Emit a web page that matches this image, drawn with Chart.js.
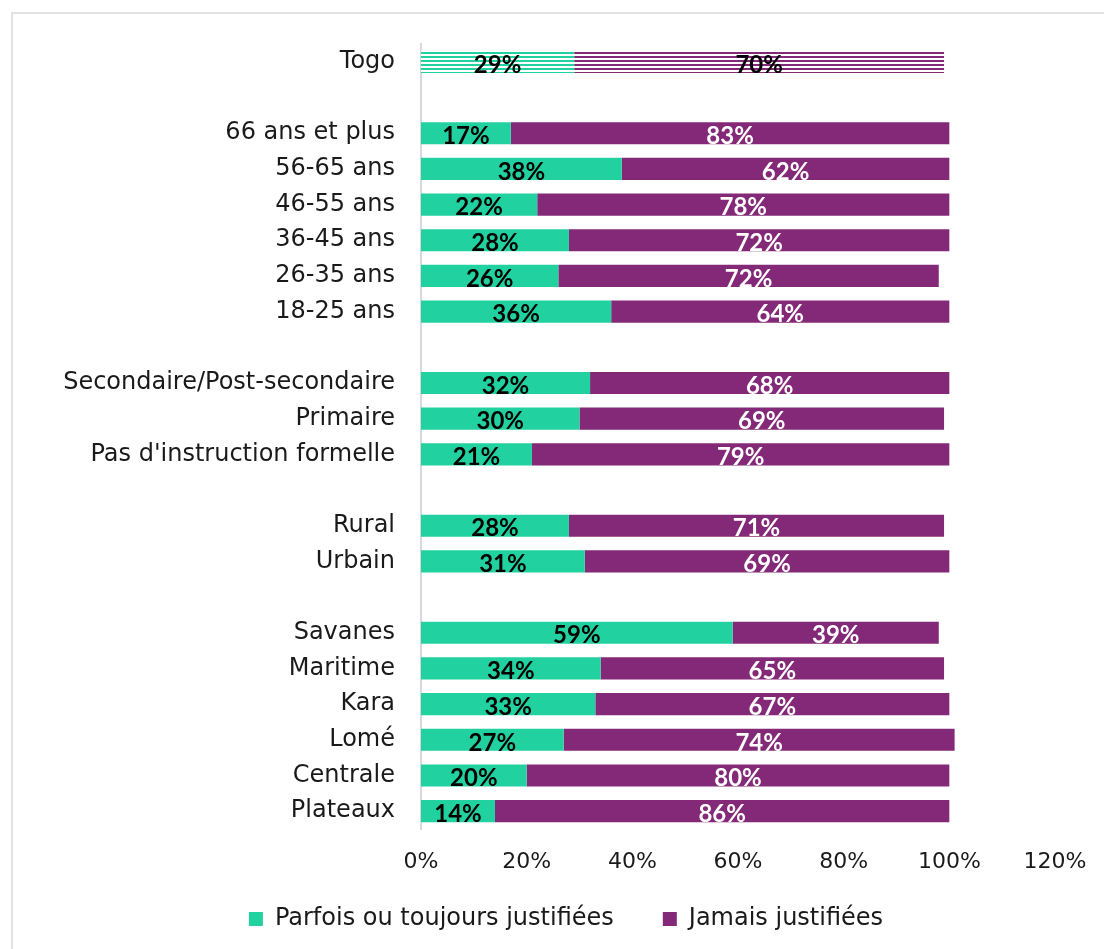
<!DOCTYPE html>
<html lang="fr">
<head>
<meta charset="utf-8">
<title>Justification de la violence</title>
<script src="https://cdn.jsdelivr.net/npm/chart.js@4/dist/chart.umd.min.js"></script>
<style>
  html, body { margin: 0; padding: 0; background: #fff; }
  #wrap { width: 1104px; height: 949px; }
</style>
</head>
<body>
<div id="wrap"><canvas id="chart" width="1104" height="949"></canvas></div>
<script>
// ------------------------------------------------------------
// DATA (empty labels are spacer rows between groups)
// ------------------------------------------------------------
const categories = [
    "Togo", "",
    "66 ans et plus", "56-65 ans", "46-55 ans", "36-45 ans", "26-35 ans", "18-25 ans", "",
    "Secondaire/Post-secondaire", "Primaire", "Pas d'instruction formelle", "",
    "Rural", "Urbain", "",
    "Savanes", "Maritime", "Kara", "Lomé", "Centrale", "Plateaux"
];
const parfois = [
    29, null,
    17, 38, 22, 28, 26, 36, null,
    32, 30, 21, null,
    28, 31, null,
    59, 34, 33, 27, 20, 14
];
const jamais = [
    70, null,
    83, 62, 78, 72, 72, 64, null,
    68, 69, 79, null,
    71, 69, null,
    39, 65, 67, 74, 80, 86
];
const xTicks = [0, 20, 40, 60, 80, 100, 120];

const GREEN = "#22d1a0";
const PURPLE = "#842878";
const SERIES_COLORS = [GREEN, PURPLE];
const FONT = "'DejaVu Sans', sans-serif";

// Horizontal striped fill used for the national (Togo) row
function stripes(color) {
    const c = document.createElement("canvas");
    c.width = 8;
    c.height = 4;
    const g = c.getContext("2d");
    g.fillStyle = "#fff";
    g.fillRect(0, 0, 8, 4);
    g.fillStyle = color;
    g.fillRect(0, 0, 8, 2);
    return g.createPattern(c, "repeat");
}

// Light frame around the chart block
const framePlugin = {
    id: "frame",
    beforeDraw(chart) {
        const ctx = chart.ctx;
        ctx.save();
        ctx.strokeStyle = "#e2e2e2";
        ctx.lineWidth = 2;
        ctx.beginPath();
        ctx.moveTo(12, chart.height);
        ctx.lineTo(12, 13);
        ctx.lineTo(chart.width, 13);
        ctx.stroke();
        ctx.restore();
    }
};

// Move the legend row up under the axis and centre it under the bars
const legendShift = {
    id: "legendShift",
    afterLayout(chart) {
        const lg = chart.legend;
        const dx = 566 - (lg.left + lg.right) / 2;
        lg.left += dx;
        lg.right += dx;
        lg.top -= 31;
        lg.bottom = lg.top + 110;
        lg.height = 110;
    }
};

// Percent labels written in the middle of each segment
const valueLabels = {
    id: "valueLabels",
    afterDatasetsDraw(chart) {
        const ctx = chart.ctx;
        ctx.save();
        ctx.font = "bold 24px 'Lato', sans-serif";
        ctx.textAlign = "center";
        ctx.textBaseline = "middle";
        chart.data.datasets.forEach((ds, di) => {
            const meta = chart.getDatasetMeta(di);
            meta.data.forEach((bar, i) => {
                const v = ds.data[i];
                if (v == null) return;
                const cx = (bar.x + bar.base) / 2;
                ctx.fillStyle = (di === 0 || i === 0) ? "#000" : "#fff";
                ctx.fillText(v + "%", cx, bar.y + 3);
            });
        });
        ctx.restore();
    }
};

function initChart() {
    const ctx = document.getElementById("chart").getContext("2d");
    const greenStripes = stripes(GREEN);
    const purpleStripes = stripes(PURPLE);

    new Chart(ctx, {
        type: "bar",
        data: {
            labels: categories,
            datasets: [
                {
                    label: "Parfois ou toujours justifiées",
                    data: parfois,
                    backgroundColor: c => c.dataIndex === 0 ? greenStripes : GREEN,
                    barPercentage: 0.62,
                    categoryPercentage: 1
                },
                {
                    label: "Jamais justifiées",
                    data: jamais,
                    backgroundColor: c => c.dataIndex === 0 ? purpleStripes : PURPLE,
                    barPercentage: 0.62,
                    categoryPercentage: 1
                }
            ]
        },
        options: {
            indexAxis: "y",
            responsive: false,
            animation: false,
            layout: { padding: { top: 44, right: 49, bottom: 0, left: 0 } },
            scales: {
                x: {
                    stacked: true,
                    min: 0,
                    max: 120,
                    afterBuildTicks: s => { s.ticks = xTicks.map(v => ({ value: v })); },
                    afterFit: s => {
                        s.height = 60;
                        s.paddingRight = 0;
                    },
                    ticks: {
                        padding: 20,
                        color: "#1a1a1a",
                        font: { family: FONT, size: 22 },
                        callback: v => v + "%"
                    },
                    grid: { display: false, drawTicks: false },
                    border: { display: false }
                },
                y: {
                    stacked: true,
                    afterFit: s => { s.width = 421; },
                    ticks: {
                        padding: 26,
                        color: "#1a1a1a",
                        autoSkip: false,
                        font: { family: FONT, size: 24 }
                    },
                    grid: { display: true, color: "transparent", drawTicks: false },
                    border: { display: true, color: "#d9d9d9", width: 2 }
                }
            },
            plugins: {
                legend: {
                    position: "bottom",
                    maxHeight: 60,
                    labels: {
                        boxWidth: 14,
                        boxHeight: 14,
                        padding: 49,
                        color: "#1a1a1a",
                        font: { family: FONT, size: 24 },
                        // solid swatches, not the striped national fill
                        generateLabels: chart => {
                            const items = Chart.defaults.plugins.legend.labels.generateLabels(chart);
                            items.forEach((it, i) => {
                                it.fillStyle = SERIES_COLORS[i];
                                it.strokeStyle = SERIES_COLORS[i];
                                it.lineWidth = 0;
                            });
                            return items;
                        }
                    }
                },
                tooltip: { enabled: false }
            }
        },
        plugins: [framePlugin, legendShift, valueLabels]
    });
}

document.addEventListener("DOMContentLoaded", initChart);
</script>
</body>
</html>
